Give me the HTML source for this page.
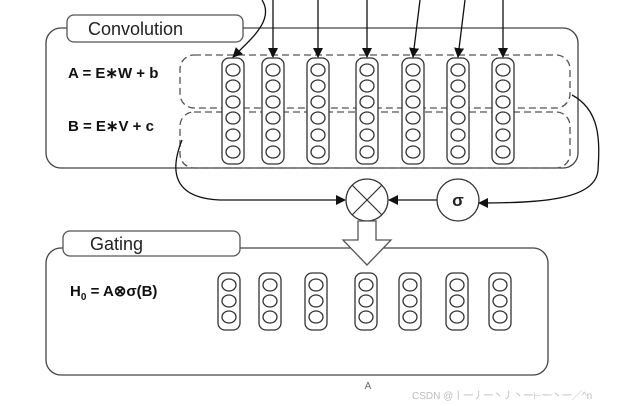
<!DOCTYPE html>
<html><head><style>body{margin:0;background:#fff}svg{display:block}</style></head><body>
<svg width="620" height="406" viewBox="0 0 620 406" xmlns="http://www.w3.org/2000/svg" font-family="Liberation Sans, sans-serif">
<defs>
<marker id="ah" markerWidth="10" markerHeight="10" refX="9" refY="5" orient="auto" markerUnits="userSpaceOnUse"><path d="M0,0 L10,5 L0,10 z" fill="#111"/></marker>
<g id="c6" fill="#fff" stroke="#333" stroke-width="1.3">
<rect x="-11" y="58" width="22" height="106" rx="7"/>
<ellipse cx="0" cy="70" rx="7" ry="6"/><ellipse cx="0" cy="86" rx="7" ry="6"/><ellipse cx="0" cy="102" rx="7" ry="6"/>
<ellipse cx="0" cy="118" rx="7" ry="6"/><ellipse cx="0" cy="135" rx="7" ry="6"/><ellipse cx="0" cy="152" rx="7" ry="6"/>
</g>
<g id="c3" fill="#fff" stroke="#333" stroke-width="1.3">
<rect x="-11" y="273" width="22" height="57" rx="7"/>
<ellipse cx="0" cy="285" rx="7" ry="6"/><ellipse cx="0" cy="301" rx="7" ry="6"/><ellipse cx="0" cy="317" rx="7" ry="6"/>
</g>
</defs>
<g fill="none" stroke="#444" stroke-width="1.3">
<rect x="46" y="28" width="532" height="140" rx="15" fill="#fff"/>
<rect x="46" y="248" width="502" height="127" rx="15" fill="#fff"/>
</g>
<rect x="67" y="15" width="176" height="27" rx="7" fill="#fff" stroke="#555" stroke-width="1.3"/>
<text x="88" y="35" font-size="18" fill="#222">Convolution</text>
<rect x="63" y="231" width="177" height="25" rx="7" fill="#fff" stroke="#555" stroke-width="1.3"/>
<text x="90" y="250" font-size="18" fill="#222">Gating</text>
<g fill="none" stroke="#555" stroke-width="1.3" stroke-dasharray="7,4">
<rect x="180" y="55" width="390" height="53" rx="14"/>
<rect x="180" y="112" width="390" height="56" rx="14"/>
</g>
<text x="68" y="78" font-size="15" font-weight="bold" fill="#111">A = E∗W + b</text>
<text x="68" y="131" font-size="15" font-weight="bold" fill="#111">B = E∗V + c</text>
<text x="70" y="296" font-size="15" font-weight="bold" fill="#111">H<tspan font-size="10" dy="4">0</tspan><tspan dy="-4"> = A⊗σ(B)</tspan></text>
<use href="#c6" x="233"/><use href="#c6" x="273"/><use href="#c6" x="318"/><use href="#c6" x="367"/><use href="#c6" x="413"/><use href="#c6" x="458"/><use href="#c6" x="503"/>
<use href="#c3" x="229"/><use href="#c3" x="270"/><use href="#c3" x="316"/><use href="#c3" x="366"/><use href="#c3" x="410"/><use href="#c3" x="457"/><use href="#c3" x="500"/>
<g stroke="#111" stroke-width="1.3" fill="none" marker-end="url(#ah)">
<path d="M262,0 C275,20 250,40 233,57"/>
<line x1="273" y1="0" x2="273" y2="57"/>
<line x1="318" y1="0" x2="318" y2="57"/>
<line x1="367" y1="0" x2="367" y2="57"/>
<path d="M420,0 L413,57"/>
<path d="M465,0 L458,57"/>
<line x1="503" y1="0" x2="503" y2="57"/>
<path d="M182,140 C170,170 172,198 220,200 L345,200"/>
<path d="M572,95 C600,110 600,140 598,170 C596,200 540,203 479,203"/>
<line x1="437" y1="200" x2="389" y2="200"/>
</g>
<circle cx="367" cy="200" r="21" fill="#fff" stroke="#333" stroke-width="1.3"/>
<path d="M352,185 L382,215 M382,185 L352,215" stroke="#333" stroke-width="1.2"/>
<circle cx="458" cy="200" r="21" fill="#fff" stroke="#333" stroke-width="1.3"/>
<text x="458" y="206" font-size="17" font-weight="bold" text-anchor="middle" fill="#222">σ</text>
<path d="M358,221 L376,221 L376,240 L391,240 L367,265 L343,240 L358,240 z" fill="#fff" stroke="#555" stroke-width="1.3"/>
<text x="368" y="389" font-size="10" text-anchor="middle" fill="#666">A</text>
<text x="412" y="399" font-size="10" fill="#bbb">CSDN @丨一丿一丶丿丶一⊢一丶一╱^n</text>
</svg>
</body></html>
